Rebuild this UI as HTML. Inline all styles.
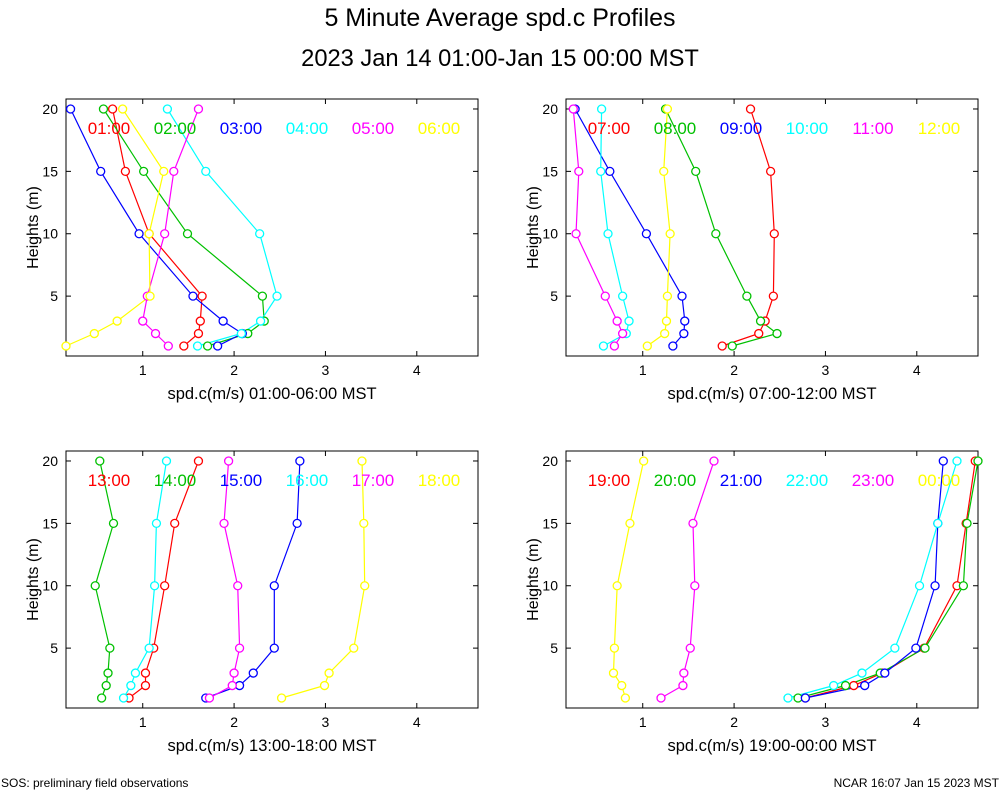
<!DOCTYPE html>
<html><head><meta charset="utf-8"><style>
body{margin:0;background:#fff;font-family:"Liberation Sans",sans-serif}
svg text{font-family:"Liberation Sans",sans-serif}
</style></head><body>
<svg id="chart" width="1000" height="800" xmlns="http://www.w3.org/2000/svg">
<text x="500" y="26" font-size="25" text-anchor="middle">5 Minute Average spd.c Profiles</text>
<text x="500" y="66" font-size="23.7" text-anchor="middle">2023 Jan 14 01:00-Jan 15 00:00 MST</text>
<text x="1" y="787" font-size="12">SOS: preliminary field observations</text>
<text x="999" y="787" font-size="12" text-anchor="end">NCAR 16:07 Jan 15 2023 MST</text>
</svg>
<script>
const heights = [20, 15, 10, 5, 3, 2, 1];
const colors = ["#ff0000", "#00c000", "#0000ff", "#00ffff", "#ff00ff", "#ffff00"];
const xTicks = [1, 2, 3, 4];
const yTicks = [5, 10, 15, 20];
const panelTitles = ["spd.c(m/s) 01:00-06:00 MST", "spd.c(m/s) 07:00-12:00 MST", "spd.c(m/s) 13:00-18:00 MST", "spd.c(m/s) 19:00-00:00 MST"];
const labels1 = ["01:00", "02:00", "03:00", "04:00", "05:00", "06:00"];
const labels2 = ["07:00", "08:00", "09:00", "10:00", "11:00", "12:00"];
const labels3 = ["13:00", "14:00", "15:00", "16:00", "17:00", "18:00"];
const labels4 = ["19:00", "20:00", "21:00", "22:00", "23:00", "00:00"];
const speeds1 = [
 [0.67, 0.81, 1.07, 1.65, 1.63, 1.61, 1.45],
 [0.57, 1.01, 1.49, 2.31, 2.33, 2.15, 1.71],
 [0.21, 0.54, 0.96, 1.55, 1.88, 2.09, 1.82],
 [1.27, 1.69, 2.28, 2.47, 2.29, 2.08, 1.60],
 [1.61, 1.34, 1.24, 1.05, 1.00, 1.14, 1.28],
 [0.78, 1.23, 1.07, 1.08, 0.72, 0.47, 0.16]];
const speeds2 = [
 [2.18, 2.40, 2.44, 2.43, 2.34, 2.27, 1.87],
 [1.25, 1.58, 1.80, 2.14, 2.29, 2.47, 1.98],
 [0.26, 0.64, 1.04, 1.43, 1.46, 1.45, 1.33],
 [0.55, 0.54, 0.62, 0.78, 0.85, 0.82, 0.57],
 [0.24, 0.30, 0.27, 0.59, 0.72, 0.78, 0.69],
 [1.27, 1.23, 1.30, 1.27, 1.26, 1.24, 1.05]];
const speeds3 = [
 [1.61, 1.35, 1.24, 1.12, 1.03, 1.03, 0.85],
 [0.53, 0.68, 0.48, 0.64, 0.62, 0.60, 0.55],
 [2.72, 2.69, 2.44, 2.44, 2.21, 2.06, 1.69],
 [1.26, 1.15, 1.13, 1.07, 0.92, 0.87, 0.79],
 [1.94, 1.89, 2.04, 2.06, 2.00, 1.98, 1.73],
 [3.40, 3.42, 3.43, 3.31, 3.04, 2.99, 2.52]];
const speeds4 = [
 [4.64, 4.54, 4.44, 4.08, 3.62, 3.31, 2.78],
 [4.67, 4.55, 4.51, 4.09, 3.60, 3.22, 2.70],
 [4.29, 4.23, 4.20, 3.99, 3.65, 3.43, 2.78],
 [4.44, 4.23, 4.03, 3.76, 3.40, 3.09, 2.59],
 [1.78, 1.55, 1.57, 1.52, 1.45, 1.44, 1.20],
 [1.01, 0.86, 0.72, 0.69, 0.68, 0.77, 0.81]];

const NS = "http://www.w3.org/2000/svg";
const svg = document.getElementById("chart");
function mk(tag, attrs, parent) {
  const e = document.createElementNS(NS, tag);
  for (const k in attrs) e.setAttribute(k, attrs[k]);
  (parent || svg).appendChild(e);
  return e;
}
const panels = [
 {ox: 66, oy: 99, labels: labels1, data: speeds1},
 {ox: 566, oy: 99, labels: labels2, data: speeds2},
 {ox: 66, oy: 451, labels: labels3, data: speeds3},
 {ox: 566, oy: 451, labels: labels4, data: speeds4}];
const W = 412, H = 257, XMIN = 0.16, XMAX = 4.67, YMIN = 0.2, YMAX = 20.8;

panels.forEach((p, pi) => {
  const g = mk("g", {});
  
  
  const xs = v => p.ox + (v - XMIN) / (XMAX - XMIN) * W;
  const ys = v => p.oy + H - (v - YMIN) / (YMAX - YMIN) * H;
  const frame = mk("rect", {x: p.ox, y: p.oy, width: W, height: H, fill: "none", stroke: "#000", "stroke-width": 1}, g);
  
  
  xTicks.forEach(t => {
    const x = xs(t);
    mk("line", {x1: x, x2: x, y1: p.oy + H, y2: p.oy + H - 5, stroke: "#000"}, g);
    mk("line", {x1: x, x2: x, y1: p.oy, y2: p.oy + 5, stroke: "#000"}, g);
    const tl = mk("text", {x: x, y: p.oy + H + 19, "font-size": 14, "text-anchor": "middle"}, g);
    tl.textContent = t;
    
    
  });
  yTicks.forEach(t => {
    const y = ys(t);
    mk("line", {x1: p.ox, x2: p.ox + 5, y1: y, y2: y, stroke: "#000"}, g);
    mk("line", {x1: p.ox + W, x2: p.ox + W - 5, y1: y, y2: y, stroke: "#000"}, g);
    const tl = mk("text", {x: p.ox - 8, y: y + 5, "font-size": 14, "text-anchor": "end"}, g);
    tl.textContent = t;
    
    
  });
  const yt = mk("text", {x: 0, y: 0, "font-size": 16, "text-anchor": "middle", transform: `translate(${p.ox - 28},${p.oy + H / 2}) rotate(-90)`}, g);
  yt.textContent = "Heights (m)";
  
  
  const xt = mk("text", {x: p.ox + W / 2, y: p.oy + H + 43, "font-size": 16.5, "text-anchor": "middle"}, g);
  xt.textContent = panelTitles[pi];
  
  
  p.data.forEach((series, si) => {
    const pts = series.map((v, i) => xs(v).toFixed(1) + "," + ys(heights[i]).toFixed(1)).join(" ");
    const pl = mk("polyline", {points: pts, fill: "none", stroke: colors[si], "stroke-width": 1.2}, g);
    
    
  });
  p.data.forEach((series, si) => {
    series.forEach((v, i) => {
      const c = mk("circle", {cx: xs(v), cy: ys(heights[i]), r: 4, fill: "#fff", stroke: colors[si], "stroke-width": 1.3}, g);
      
      
    });
  });
  p.labels.forEach((lab, si) => {
    const t = mk("text", {x: p.ox + 43 + si * 66, y: p.oy + 35, "font-size": 17, "text-anchor": "middle", fill: colors[si]}, g);
    t.textContent = lab;
    
    
  });
});
</script>
</body></html>
